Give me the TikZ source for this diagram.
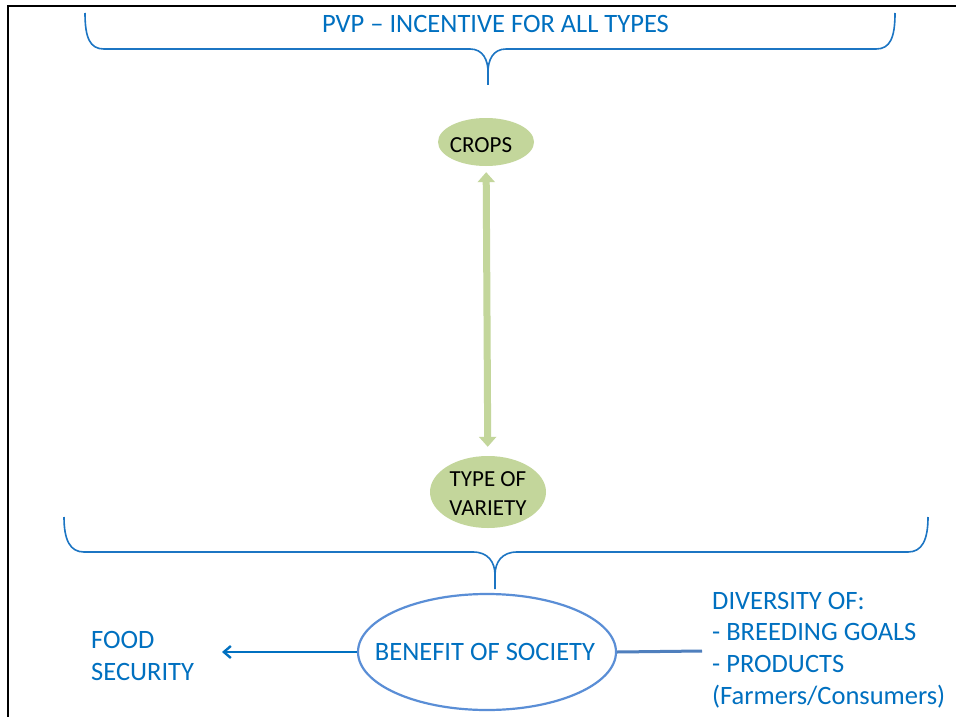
\documentclass[tikz,border=0pt]{standalone}
\usepackage{fontspec}
\setmainfont{Carlito}
\usetikzlibrary{arrows.meta,shapes.geometric}
\definecolor{tblue}{HTML}{0070C0}
\definecolor{bblue}{HTML}{1C75C3}
\definecolor{eblue}{HTML}{5A8ED6}
\definecolor{lblue}{HTML}{4F7FBD}
\definecolor{lgreen}{HTML}{C3D69B}
\begin{document}
\begin{tikzpicture}[x=1pt,y=-1pt,
  curly/.style={draw=bblue, line width=1.6pt},
  bluetext/.style={text=tblue, font=\fontsize{26.5}{31.7}\selectfont, inner sep=0pt},
  greenell/.style={ellipse, fill=lgreen, inner sep=0pt},
  blacklbl/.style={font=\fontsize{23}{29}\selectfont, align=center, inner sep=0pt},
  dblarrow/.style={draw=lgreen, line width=7pt, {Triangle[length=10pt,width=17pt]}-{Triangle[length=10pt,width=17pt]}},
]
\useasboundingbox (0,0) rectangle (956,717);
\fill[white] (0,0) rectangle (956,717);
\draw[line width=2.5pt] (8,717) -- (8,6) -- (956,6);

% top brace
\draw[curly] (85,13) .. controls (85,38) and (90,49) .. (104,49) -- (470,49) .. controls (483,49) and (488,60) .. (488,72) -- (488,85);
\draw[curly] (895,13) .. controls (895,38) and (890,49) .. (876,49) -- (506,49) .. controls (493,49) and (488,60) .. (488,72);
% bottom brace
\draw[curly] (64,517) .. controls (64,540) and (70,552) .. (84,552) -- (473,552) .. controls (488,552) and (495,562) .. (495,575) -- (495,589);
\draw[curly] (928,517) .. controls (928,540) and (922,552) .. (908,552) -- (517,552) .. controls (502,552) and (495,562) .. (495,575);

\node[bluetext, anchor=base] (title) at (495.5,33) {PVP – INCENTIVE FOR ALL TYPES};

\node[greenell, minimum width=96pt, minimum height=48pt] (crops) at (486,142) {};
\node[blacklbl] (cropstxt) at (481,145) {CROPS};
\node[greenell, minimum width=116pt, minimum height=72pt] (variety) at (488,492) {};
\node[blacklbl] (varietytxt) at (488,494) {TYPE OF\\VARIETY};
\draw[dblarrow, shorten <=6pt, shorten >=9pt] (crops) -- (variety);

\node[ellipse, draw=eblue, line width=2.2pt, minimum width=258pt, minimum height=116pt, inner sep=0pt] (benefit) at (487,652) {};
\node[bluetext] (benefittxt) at (485,652) {BENEFIT OF SOCIETY};

\node[bluetext, align=left, anchor=west] (food) at (91,656) {FOOD\\SECURITY};
\node[bluetext, align=left, anchor=west] (div) at (712,650) {DIVERSITY OF:\\- BREEDING GOALS\\- PRODUCTS\\(Farmers/Consumers)};

\coordinate (foodtip) at (222,652);
\coordinate (divend) at (702,651);
\draw[draw=tblue, line width=2.4pt, -{Straight Barb[length=7pt,width=12pt]}] (benefit.west) -- (foodtip);
\draw[draw=lblue, line width=3pt] (benefit.east) -- (divend);
\end{tikzpicture}
\end{document}
